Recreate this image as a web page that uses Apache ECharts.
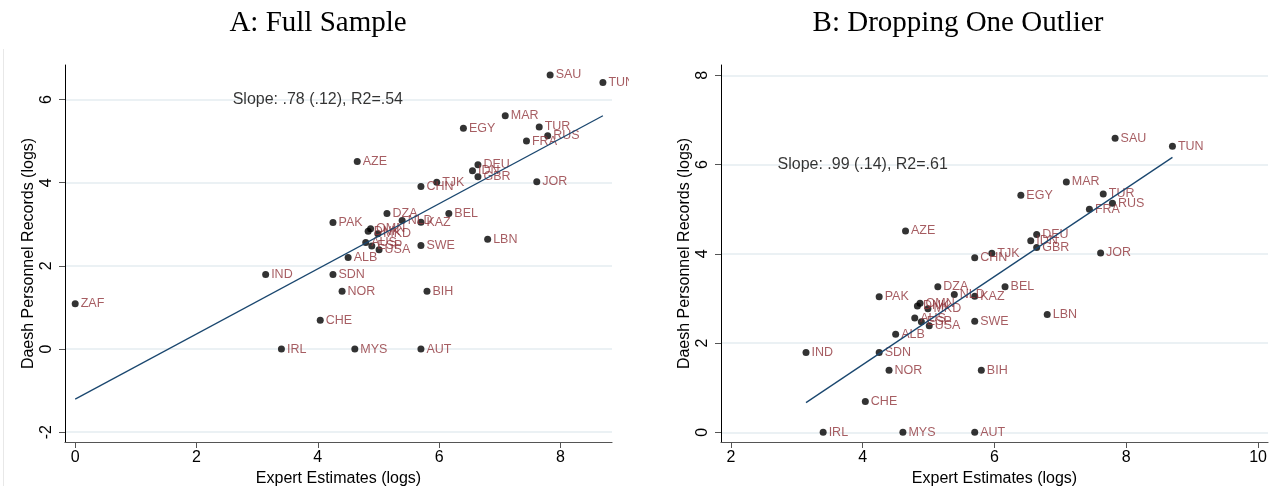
<!DOCTYPE html>
<html><head><meta charset="utf-8">
<script src="https://cdn.jsdelivr.net/npm/echarts@6/dist/echarts.min.js"></script>
<style>html,body{margin:0;padding:0;background:#fff}#c{width:1276px;height:486px}</style>
</head><body><div id="c"></div>
<script>
const countries = ['SAU','TUN','MAR','EGY','TUR','RUS','FRA','AZE','DEU','IDN','GBR','TJK','CHN','JOR','DZA','BEL','NLD','KAZ','PAK','OMN','DNK','MKD','AUS','ESP','USA','SWE','LBN','ALB','IND','SDN','NOR','BIH','ZAF','CHE','IRL','MYS','AUT'];
const expertLogs = [7.83,8.70,7.09,6.40,7.65,7.79,7.44,4.65,6.64,6.55,6.64,5.96,5.70,7.61,5.14,6.16,5.39,5.70,4.25,4.87,4.83,4.99,4.79,4.89,5.01,5.70,6.80,4.50,3.14,4.25,4.40,5.80,0.00,4.04,3.40,4.61,5.70];
const daeshLogs  = [6.59,6.41,5.61,5.31,5.34,5.13,5.00,4.51,4.43,4.29,4.14,4.01,3.91,4.02,3.26,3.26,3.09,3.05,3.04,2.89,2.83,2.77,2.56,2.48,2.39,2.49,2.64,2.20,1.79,1.79,1.39,1.39,1.09,0.69,0.00,0.00,0.00];
const outlier = 'ZAF';
const fitLineA = [[0, -1.205], [8.70, 5.61]];
const fitLineB = [[3.14, 0.665], [8.70, 6.16]];
const annotationA = 'Slope: .78 (.12), R2=.54';
const annotationB = 'Slope: .99 (.14), R2=.61';
const annotationPos = [4, 6];
const xTicksA = [0, 2, 4, 6, 8];
const yTicksA = [-2, 0, 2, 4, 6];
const xTicksB = [2, 4, 6, 8, 10];
const yTicksB = [0, 2, 4, 6, 8];
const panelTitles = ['A: Full Sample', 'B: Dropping One Outlier'];
const xTitle = 'Expert Estimates (logs)';
const yTitle = 'Daesh Personnel Records (logs)';

const FONT = 'Liberation Sans, Arial, sans-serif';
const LABEL_RED = '#90353b';
const NAVY = '#1a476f';

const allPts = countries.map((c, i) => [expertLogs[i], daeshLogs[i], c]);
const ptsB = allPts.filter(p => p[2] !== outlier);

function xAxis(gi, min, max, ticks) {
  return {
    type: 'value', gridIndex: gi, min: min, max: max,
    name: xTitle, nameLocation: 'middle', nameGap: 23,
    nameTextStyle: { fontFamily: FONT, fontSize: 16, color: '#000' },
    axisLine: { onZero: false, lineStyle: { color: '#555', width: 1.2 } },
    axisTick: { show: true, length: 6, customValues: ticks, lineStyle: { color: '#555' } },
    axisLabel: { customValues: ticks, margin: 8, fontFamily: FONT, fontSize: 16, color: '#000' },
    splitLine: { show: false }
  };
}
function yAxis(gi, min, max, ticks) {
  return {
    type: 'value', gridIndex: gi, min: min, max: max,
    name: yTitle, nameLocation: 'middle', nameGap: 28, nameRotate: 90,
    nameTextStyle: { fontFamily: FONT, fontSize: 16, color: '#000' },
    axisLine: { onZero: false, lineStyle: { color: '#000', width: 1 } },
    axisTick: { show: true, length: 6, customValues: ticks, lineStyle: { color: '#555' } },
    axisLabel: { customValues: ticks, rotate: 90, margin: 10, fontFamily: FONT, fontSize: 16, color: '#000' },
    splitLine: { show: true, lineStyle: { color: '#e4edf0', width: 1.5 } }
  };
}
function scatter(gi, data) {
  return {
    type: 'scatter', xAxisIndex: gi, yAxisIndex: gi, data: data,
    symbol: 'circle', symbolSize: 7, itemStyle: { color: '#000' },
    label: { show: true, position: 'right', distance: 2, formatter: p => p.data[2],
      fontFamily: FONT, fontSize: 12.5, color: LABEL_RED },
    z: 3
  };
}
function fit(gi, data) {
  return {
    type: 'line', xAxisIndex: gi, yAxisIndex: gi, data: data, symbol: 'none',
    lineStyle: { color: NAVY, width: 1.3 }, z: 4, silent: true
  };
}
function note(gi, text) {
  return {
    type: 'scatter', xAxisIndex: gi, yAxisIndex: gi, data: [annotationPos],
    symbolSize: 0, silent: true,
    label: { show: true, position: 'inside', formatter: text,
      fontFamily: FONT, fontSize: 16, color: '#000' }, z: 5
  };
}

const chart = echarts.init(document.getElementById('c'), null, { renderer: 'canvas' });
chart.setOption({
  animation: false,
  backgroundColor: '#fff',
  grid: [
    { left: 65, top: 65, width: 547, height: 377, outerBoundsMode: 'none', containLabel: false },
    { left: 721, top: 65, width: 547, height: 377, outerBoundsMode: 'none', containLabel: false }
  ],
  xAxis: [xAxis(0, -0.168, 8.85, xTicksA), xAxis(1, 1.85, 10.15, xTicksB)],
  yAxis: [yAxis(0, -2.235, 6.83, yTicksA), yAxis(1, -0.217, 8.23, yTicksB)],
  series: [
    scatter(0, allPts), fit(0, fitLineA), note(0, annotationA),
    scatter(1, ptsB), fit(1, fitLineB), note(1, annotationB)
  ],
  graphic: [
    { type: 'rect', shape: { x: 629, y: 55, width: 30, height: 70 }, style: { fill: '#fff' }, z: 100 },
    { type: 'line', shape: { x1: 3.5, y1: 49, x2: 3.5, y2: 486 }, style: { stroke: '#e8e8e8', lineWidth: 1 }, z: 100 },
    { type: 'text', x: 318, y: 23, z: 100, style: { text: panelTitles[0], textAlign: 'center', textVerticalAlign: 'middle',
      font: '29px "Liberation Serif", serif', fill: '#000' } },
    { type: 'text', x: 958, y: 23, z: 100, style: { text: panelTitles[1], textAlign: 'center', textVerticalAlign: 'middle',
      font: '29px "Liberation Serif", serif', fill: '#000' } }
  ]
});
</script></body></html>
